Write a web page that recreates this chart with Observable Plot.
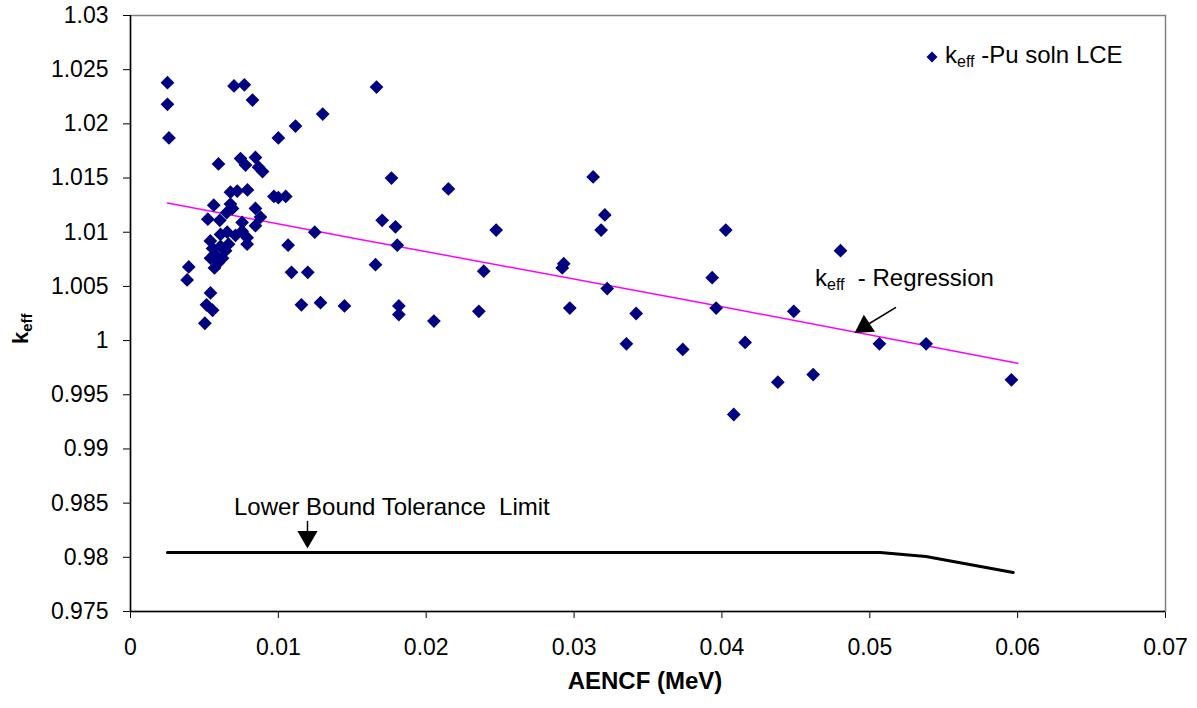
<!DOCTYPE html>
<html><head><meta charset="utf-8">
<script src="https://cdn.jsdelivr.net/npm/d3@7"></script>
<script src="https://cdn.jsdelivr.net/npm/@observablehq/plot@0.6"></script>
<style>
html,body{margin:0;padding:0;background:#fff}
#chart{width:1197px;height:708px}
</style>
</head><body><div id="chart"></div>
<script>
// ---- data ----
const aencf = [0.0025,0.0025,0.0026,0.0070,0.0077,0.00825,0.01664,0.0130,0.01116,0.0100,
  0.01765,0.03129,0.0215,0.00595,0.00744,0.00778,0.00845,0.00866,0.00893,0.00676,
  0.00722,0.00791,0.0097,0.0100,0.0105,0.00563,0.00676,0.0069,0.0065,0.00523,
  0.00604,0.00845,0.00879,0.00845,0.00755,0.00755,0.00789,0.00789,0.0071,0.00654,
  0.0054,0.00609,0.00555,0.00582,0.00609,0.00643,0.00595,0.00663,0.00622,0.00541,
  0.00568,0.01246,0.01066,0.01089,0.01199,0.01156,0.01285,0.01447,0.00394,0.00383,
  0.00541,0.00514,0.00555,0.00503,0.01702,0.01792,0.01804,0.01657,0.01815,0.01815,
  0.02052,0.02356,0.02389,0.02473,0.03208,0.03183,0.0293,0.0292,0.02971,0.03224,
  0.0342,0.03354,0.03735,0.04026,0.04802,0.03934,0.03961,0.04486,0.04157,0.04378,
  0.04617,0.0408,0.05065,0.05381,0.05958];
const keff = [1.0238,1.0218,1.0187,1.0235,1.0236,1.0222,1.0234,1.0209,1.0198,1.0187,
  1.0150,1.0151,1.0140,1.0163,1.0168,1.0162,1.0169,1.0160,1.0156,1.0137,
  1.0138,1.0139,1.0133,1.0132,1.0133,1.0125,1.0126,1.0122,1.0118,1.0112,
  1.0111,1.0122,1.0114,1.0106,1.0109,1.0101,1.0095,1.0089,1.0097,1.0100,
  1.0092,1.0098,1.0085,1.0078,1.0087,1.0083,1.0072,1.0089,1.0076,1.0076,
  1.0067,1.0100,1.0088,1.0063,1.0063,1.0033,1.0035,1.0032,1.0068,1.0056,
  1.0044,1.0033,1.0028,1.0016,1.0111,1.0105,1.0088,1.0070,1.0032,1.0024,
  1.0018,1.0027,1.0064,1.0102,1.0116,1.0102,1.0071,1.0067,1.0030,1.0048,
  1.0025,0.9997,0.99918,1.0102,1.0083,1.0058,1.0030,1.0027,0.99983,0.99616,
  0.99687,0.99318,0.9997,0.9997,0.99638];
const regX = [0.0025,0.0149,0.0386,0.0600];
const regY = [1.0127,1.0095,1.0035,0.9979];
const lbX = [0.0025,0.0507,0.0538,0.0597];
const lbY = [0.98045,0.98045,0.98007,0.9786];
const xTicks = [0,0.01,0.02,0.03,0.04,0.05,0.06,0.07];
const yTicks = [0.975,0.98,0.985,0.99,0.995,1,1.005,1.01,1.015,1.02,1.025,1.03];
// annotation anchors (data units)
const lbArrowX = [0.01197,0.01197];
const lbArrowY = [0.98330,0.98189];
const regArrowX = [0.05174,0.04964];
const regArrowY = [1.00305,1.00130];

const points = aencf.map((x,i)=>({x, y:keff[i]}));
const reg = regX.map((x,i)=>({x, y:regY[i]}));
const lb = lbX.map((x,i)=>({x, y:lbY[i]}));
const lbArrow = lbArrowX.map((x,i)=>({x, y:lbArrowY[i]}));
const regArrow = regArrowX.map((x,i)=>({x, y:regArrowY[i]}));

const FONT = "'Liberation Sans', Arial, sans-serif";

const plot = Plot.plot({
  width:1197, height:708,
  marginLeft:130, marginRight:32, marginTop:15, marginBottom:97,
  style:{fontFamily:FONT, fontSize:"23px", color:"#000", background:"#fff", overflow:"visible"},
  x:{domain:[0,0.07], ticks:xTicks, tickFormat:d=>String(+d.toFixed(3)), tickSize:7, tickPadding:20, label:null},
  y:{domain:[0.975,1.03], ticks:yTicks, tickFormat:d=>String(+d.toFixed(3)), tickSize:7, tickPadding:15, label:null},
  marks:[
    Plot.frame({stroke:"#808080", strokeWidth:1.5}),
    Plot.ruleX([0],{stroke:"#000", strokeWidth:1.5}),
    Plot.ruleY([0.975],{stroke:"#000", strokeWidth:1.5}),
    Plot.line(lb,{x:"x", y:"y", stroke:"#000", strokeWidth:3}),
    Plot.line(reg,{x:"x", y:"y", stroke:"#FF00FF", strokeWidth:1.5}),
    Plot.dot(points,{x:"x", y:"y", symbol:"diamond2", r:6.2, fill:"#000080", stroke:"none"}),
    Plot.line(lbArrow,{x:"x", y:"y", stroke:"#000", strokeWidth:1.5}),
    Plot.dot([lbArrow[1]],{x:"x", y:"y", symbol:"triangle", r:7.5, rotate:180, fill:"#000", stroke:"none"}),
    Plot.line(regArrow,{x:"x", y:"y", stroke:"#000", strokeWidth:1.5}),
    Plot.dot([regArrow[1]],{x:"x", y:"y", symbol:"triangle", r:7.6, rotate:237, fill:"#000", stroke:"none"})
  ]
});

document.getElementById("chart").appendChild(plot);
const svg = d3.select(plot);

function txt(x, y, size){
  return svg.append("text").attr("x",x).attr("y",y)
    .attr("text-anchor","start")
    .attr("font-family",FONT).attr("font-size",size).attr("fill","#000");
}

// legend
svg.append("path")
  .attr("d", "M0,-5.5L5.5,0L0,5.5L-5.5,0Z")
  .attr("transform","translate(932,57)")
  .attr("fill","#000080");
const leg = txt(945,63,24);
leg.append("tspan").text("k");
leg.append("tspan").attr("font-size",16).attr("dy",4).text("eff");
leg.append("tspan").attr("dy",-4).text(" -Pu soln LCE");

// regression label
const rl = txt(815,286,24);
rl.append("tspan").text("k");
rl.append("tspan").attr("font-size",16).attr("dy",4).text("eff");
rl.append("tspan").attr("dy",-4).text("\u00a0\u00a0- Regression");

// lower bound label
txt(234,515,24).text("Lower Bound Tolerance\u00a0 Limit");

// axis titles
svg.append("text").attr("x",645).attr("y",689).attr("text-anchor","middle")
  .attr("font-family",FONT).attr("font-size",24).attr("font-weight","bold").attr("fill","#000")
  .text("AENCF (MeV)");
const yt = svg.append("text").attr("transform","translate(28,344) rotate(-90)")
  .attr("text-anchor","start")
  .attr("font-family",FONT).attr("font-size",22).attr("font-weight","bold").attr("fill","#000");
yt.append("tspan").text("k");
yt.append("tspan").attr("font-size",15).attr("dy",4).text("eff");
</script>
</body></html>
